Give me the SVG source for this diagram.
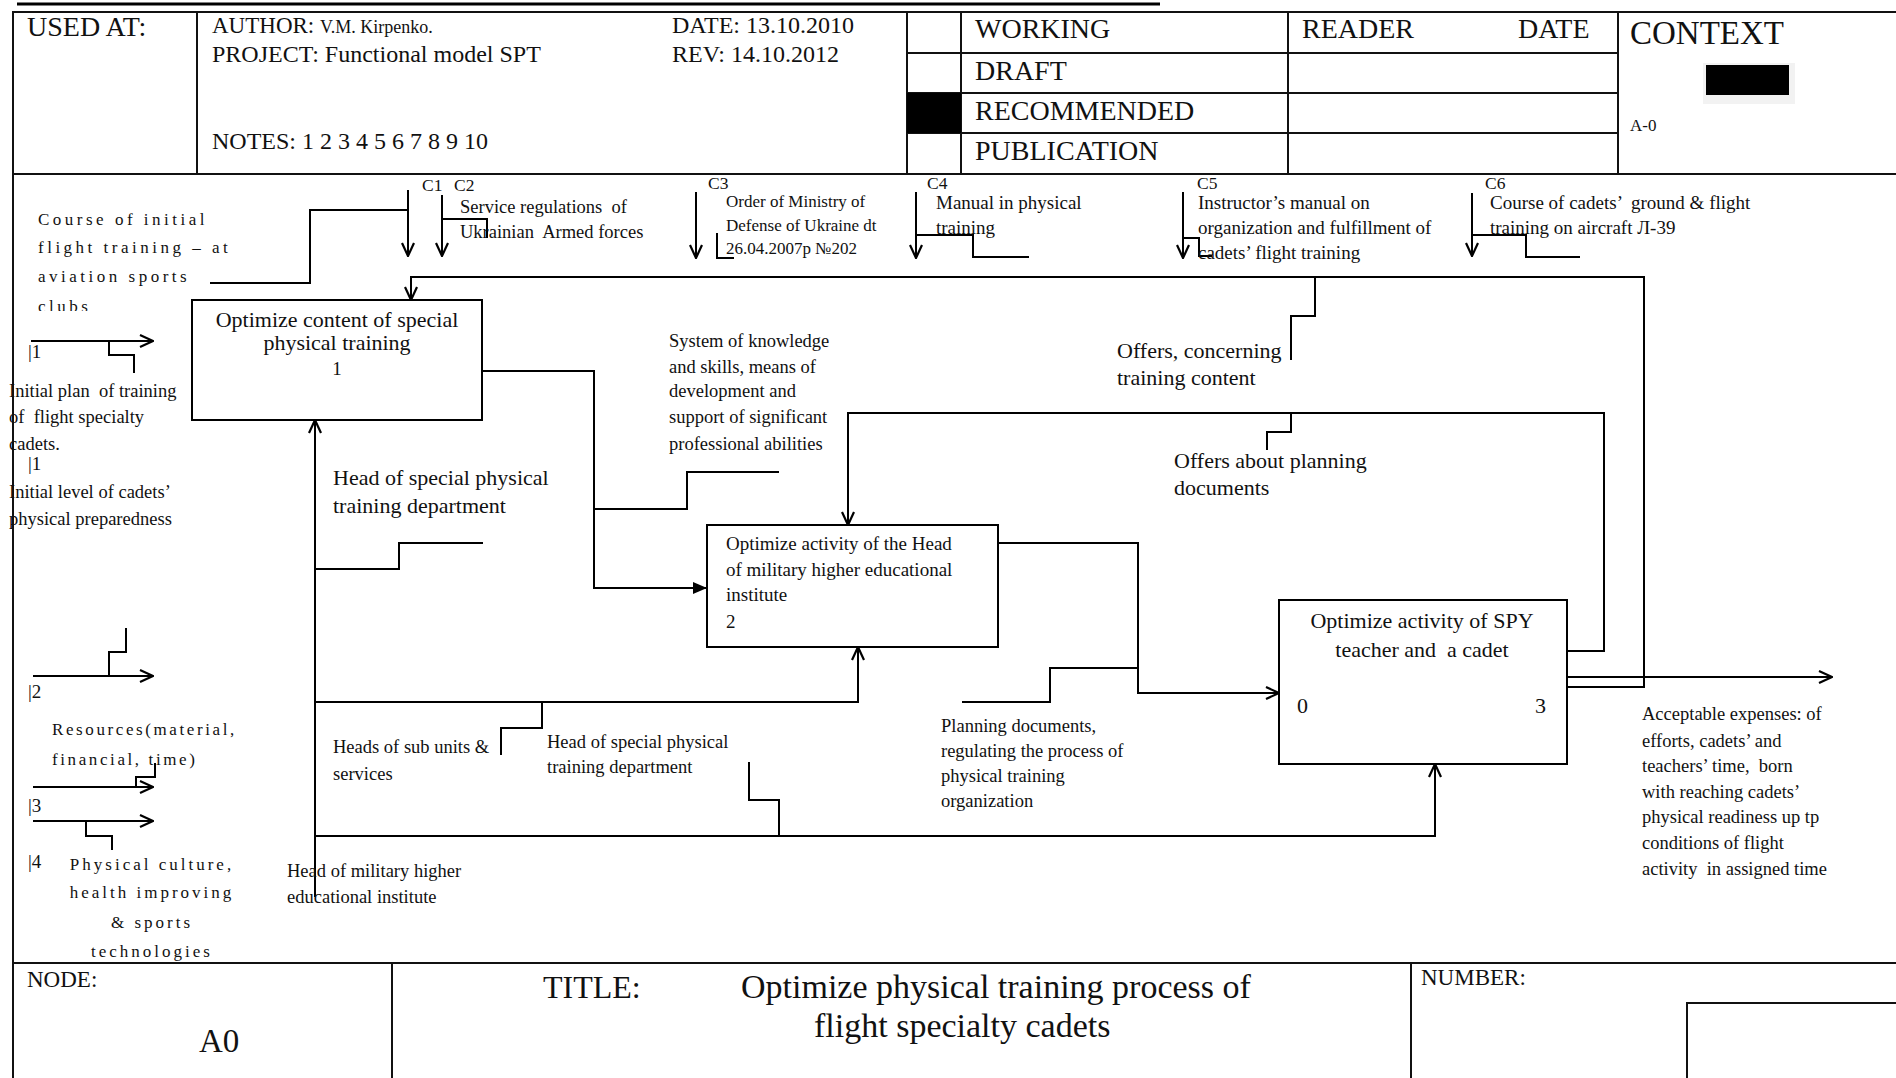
<svg xmlns="http://www.w3.org/2000/svg" width="1896" height="1078" viewBox="0 0 1896 1078">
<style>
text{font-family:"Liberation Serif","Times New Roman",serif;fill:#111;white-space:pre}
.h28{font-size:28px}.h24{font-size:24px}.h23{font-size:23px}
.t22{font-size:22px}.t19{font-size:19px}.t18{font-size:18.5px}.t17{font-size:17px}.t16{font-size:17.5px}
.sp{font-size:17px;letter-spacing:3px}
.sp2{font-size:17px;letter-spacing:3.5px}
.sp3{font-size:17px;letter-spacing:2.6px}
.ln{fill:none;stroke:#000;stroke-width:2}
.fr{fill:none;stroke:#111;stroke-width:2}
.box{fill:#fff;stroke:#000;stroke-width:2}
.arr{marker-end:url(#open)}
.farr{marker-end:url(#solid)}
.mid{text-anchor:middle}
</style>
<defs>
<marker id="open" markerUnits="userSpaceOnUse" viewBox="0 0 16 16" refX="15" refY="8" markerWidth="16" markerHeight="16" orient="auto">
<path d="M2,2 L15,8 L2,14" fill="none" stroke="#000" stroke-width="2.2"/>
</marker>
<marker id="solid" markerUnits="userSpaceOnUse" viewBox="0 0 16 16" refX="15" refY="8" markerWidth="16" markerHeight="16" orient="auto">
<path d="M1,2 L15,8 L1,14 z" fill="#000"/>
</marker>
<clipPath id="clubclip"><rect x="0" y="180" width="300" height="131"/></clipPath>
</defs>
<rect width="1896" height="1078" fill="#fff"/>

<g id="frame">
<line x1="17" y1="4" x2="1160" y2="4" stroke="#000" stroke-width="3"/>
<path class="fr" d="M13,1078 V12 H1896 M13,174 H1896 M13,963 H1896"/>
<path class="fr" d="M197,12 V174 M907,12 V174 M961,12 V174 M1288,12 V174 M1618,12 V174 M907,53 H1618 M907,93 H1618 M907,133 H1618"/>
<rect x="907" y="93" width="54" height="40" fill="#000"/>
<rect x="1703" y="63" width="92" height="41" fill="#f2f2f2"/>
<rect x="1706" y="65" width="83" height="30" fill="#000"/>
<path class="fr" d="M392,963 V1078 M1411,963 V1078 M1687,1078 V1003 H1896"/>
<text class="h28" x="27" y="36">USED AT:</text>
<text class="h23" x="212" y="33">AUTHOR: <tspan font-size="18">V.M. Kirpenko.</tspan></text>
<text class="h24" x="212" y="62">PROJECT: Functional model SPT</text>
<text class="h24" x="212" y="149">NOTES: 1 2 3 4 5 6 7 8 9 10</text>
<text class="h24" x="672" y="33">DATE: 13.10.2010</text>
<text class="h24" x="672" y="62">REV: 14.10.2012</text>
<text class="h28" x="975" y="38">WORKING</text>
<text class="h28" x="975" y="80">DRAFT</text>
<text class="h28" x="975" y="120">RECOMMENDED</text>
<text class="h28" x="975" y="160">PUBLICATION</text>
<text class="h28" x="1302" y="38">READER</text>
<text class="h28" x="1518" y="38">DATE</text>
<text x="1630" y="44" font-size="33">CONTEXT</text>
<text x="1630" y="131" font-size="17">A-0</text>
<text class="h23" x="27" y="987">NODE:</text>
<text x="199" y="1052" font-size="33">A0</text>
<text x="543" y="998" font-size="32">TITLE:</text>
<text x="741" y="998" font-size="34">Optimize physical training process of</text>
<text x="814" y="1037" font-size="34">flight specialty cadets</text>
<text class="h23" x="1421" y="985">NUMBER:</text>
</g>

<g id="box1">
<rect class="box" x="192" y="300" width="290" height="120"/>
<text class="t22 mid" x="337" y="327">Optimize content of special</text>
<text class="t22 mid" x="337" y="350">physical training</text>
<text class="t19 mid" x="337" y="375">1</text>
</g>
<g id="box2">
<rect class="box" x="707" y="525" width="291" height="122"/>
<text class="t19" x="726" y="550">Optimize activity of the Head</text>
<text class="t19" x="726" y="576">of military higher educational</text>
<text class="t19" x="726" y="601">institute</text>
<text class="t19" x="726" y="628">2</text>
</g>
<g id="box3">
<rect class="box" x="1279" y="600" width="288" height="164"/>
<text class="t22 mid" x="1422" y="628">Optimize activity of SPY</text>
<text class="t22 mid" x="1422" y="657">teacher and  a cadet</text>
<text class="t22" x="1297" y="713">0</text>
<text class="t22" x="1535" y="713">3</text>
</g>

<g id="connectors">
<path class="ln arr" d="M408,190 V256"/>
<path class="ln arr" d="M442,195 V256"/>
<path class="ln arr" d="M696,192 V258"/>
<path class="ln arr" d="M916,192 V258"/>
<path class="ln arr" d="M1183,192 V258"/>
<path class="ln arr" d="M1472,193 V256"/>
<path class="ln arr" d="M1567,687 H1644 V277 H411 V300"/>
<path class="ln arr" d="M1567,651 H1604 V413 H848 V525"/>
<path class="ln arr" d="M1567,677 H1832"/>
<path class="ln farr" d="M482,371 H594 V588 H707"/>
<path class="ln arr" d="M998,543 H1138 V693 H1279"/>
<path class="ln arr" d="M315,897 V420"/>
<path class="ln arr" d="M315,702 H858 V647"/>
<path class="ln arr" d="M315,836 H1435 V764"/>
<path class="ln arr" d="M31,341 H153"/>
<path class="ln arr" d="M33,676 H153"/>
<path class="ln arr" d="M33,787 H153"/>
<path class="ln arr" d="M33,821 H153"/>
<g stroke-width="1.6">
<path class="ln" d="M210,283 H310 V210 H408"/>
<path class="ln" d="M442,219 H487 V238"/>
<path class="ln" d="M717,233 V258 H734"/>
<path class="ln" d="M916,235 H973 V257 H1029"/>
<path class="ln" d="M1183,238 H1199 V256 H1212"/>
<path class="ln" d="M1472,235 H1526 V257 H1580"/>
<path class="ln" d="M109,341 V355 H134 V373"/>
<path class="ln" d="M109,676 V652 H126 V628"/>
<path class="ln" d="M136,787 V777 H155 V763"/>
<path class="ln" d="M86,821 V836 H112 V850"/>
<path class="ln" d="M1291,360 V316 H1315 V277"/>
<path class="ln" d="M1267,450 V432 H1291 V413"/>
<path class="ln" d="M779,472 H687 V509 H594"/>
<path class="ln" d="M483,543 H399 V569 H315"/>
<path class="ln" d="M501,755 V728 H542 V702"/>
<path class="ln" d="M749,762 V800 H779 V836"/>
<path class="ln" d="M962,702 H1050 V668 H1138"/>
</g>
</g>

<g id="labels">
<text class="t16" x="422" y="191">C1</text>
<text class="t16" x="454" y="191">C2</text>
<text class="t16" x="708" y="189">C3</text>
<text class="t16" x="927" y="189">C4</text>
<text class="t16" x="1197" y="189">C5</text>
<text class="t16" x="1485" y="189">C6</text>
<text class="t18" x="460" y="213">Service regulations  of</text>
<text class="t18" x="460" y="238">Ukrainian  Armed forces</text>
<text class="t17" x="726" y="207">Order of Ministry of</text>
<text class="t17" x="726" y="231">Defense of Ukraine dt</text>
<text class="t17" x="726" y="254">26.04.2007р №202</text>
<text class="t19" x="936" y="209">Manual in physical</text>
<text class="t19" x="936" y="234">training</text>
<text class="t19" x="1198" y="209">Instructor’s manual on</text>
<text class="t19" x="1198" y="234">organization and fulfillment of</text>
<text class="t19" x="1198" y="259">cadets’ flight training</text>
<text class="t19" x="1490" y="209">Course of cadets’  ground &amp; flight</text>
<text class="t19" x="1490" y="234">training on aircraft Л-39</text>
<g clip-path="url(#clubclip)">
<text class="sp2" x="38" y="225">Course of initial</text>
<text class="sp2" x="38" y="253">flight training – at</text>
<text class="sp2" x="38" y="282">aviation sports</text>
<text class="sp2" x="38" y="312">clubs</text>
</g>
<text class="t19" x="28" y="358">|1</text>
<text class="t18" x="9" y="397">Initial plan  of training</text>
<text class="t18" x="9" y="423">of  flight specialty</text>
<text class="t18" x="9" y="450">cadets.</text>
<text class="t19" x="28" y="470">|1</text>
<text class="t18" x="9" y="498">Initial level of cadets’</text>
<text class="t18" x="9" y="525">physical preparedness</text>
<text class="t19" x="28" y="698">|2</text>
<text class="sp3" x="52" y="735">Resources(material,</text>
<text class="sp3" x="52" y="765">financial, time)</text>
<text class="t19" x="28" y="812">|3</text>
<text class="t19" x="28" y="868">|4</text>
<text class="sp mid" x="152" y="870">Physical culture,</text>
<text class="sp mid" x="152" y="898">health improving</text>
<text class="sp mid" x="152" y="928">&amp; sports</text>
<text class="sp mid" x="152" y="957">technologies</text>
<text class="t22" x="333" y="485">Head of special physical</text>
<text class="t22" x="333" y="513">training department</text>
<text class="t18" x="669" y="347">System of knowledge</text>
<text class="t18" x="669" y="373">and skills, means of</text>
<text class="t18" x="669" y="397">development and</text>
<text class="t18" x="669" y="423">support of significant</text>
<text class="t18" x="669" y="450">professional abilities</text>
<text class="t22" x="1117" y="358">Offers, concerning</text>
<text class="t22" x="1117" y="385">training content</text>
<text class="t22" x="1174" y="468">Offers about planning</text>
<text class="t22" x="1174" y="495">documents</text>
<text class="t18" x="333" y="753">Heads of sub units &amp;</text>
<text class="t18" x="333" y="780">services</text>
<text class="t18" x="547" y="748">Head of special physical</text>
<text class="t18" x="547" y="773">training department</text>
<text class="t18" x="287" y="877">Head of military higher</text>
<text class="t18" x="287" y="903">educational institute</text>
<text class="t18" x="941" y="732">Planning documents,</text>
<text class="t18" x="941" y="757">regulating the process of</text>
<text class="t18" x="941" y="782">physical training</text>
<text class="t18" x="941" y="807">organization</text>
<text class="t18" x="1642" y="720">Acceptable expenses: of</text>
<text class="t18" x="1642" y="747">efforts, cadets’ and</text>
<text class="t18" x="1642" y="772">teachers’ time,  born</text>
<text class="t18" x="1642" y="798">with reaching cadets’</text>
<text class="t18" x="1642" y="823">physical readiness up tp</text>
<text class="t18" x="1642" y="849">conditions of flight</text>
<text class="t18" x="1642" y="875">activity  in assigned time</text>
</g>
</svg>
